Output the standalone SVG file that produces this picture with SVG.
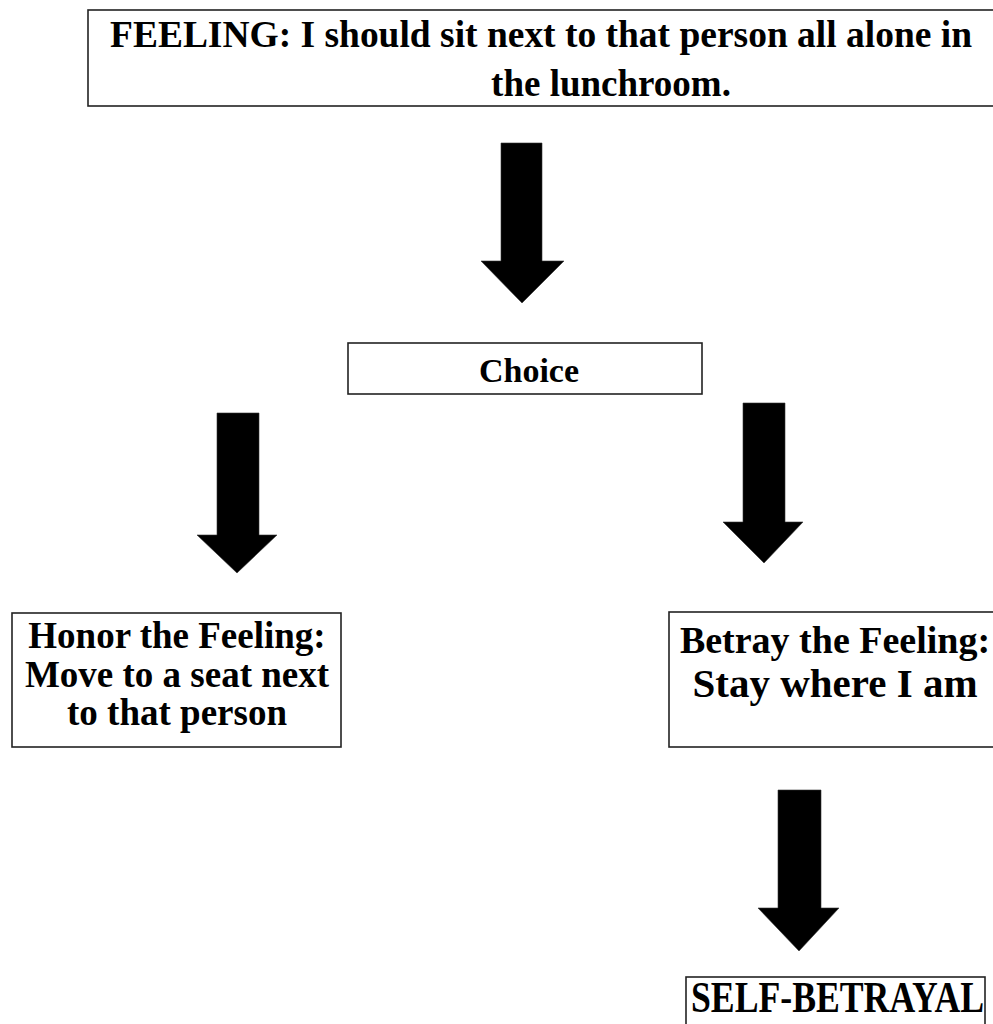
<svg xmlns="http://www.w3.org/2000/svg" width="993" height="1024" viewBox="0 0 993 1024">
  <style>
    .box { fill: #ffffff; stroke: #222222; stroke-width: 1.6; }
    .arrow { fill: #000000; stroke: #333333; stroke-width: 0.6; }
    .t { font-family: "Liberation Serif", "Times New Roman", serif; font-weight: bold; fill: #000000; }
  </style>
  <rect width="993" height="1024" fill="#ffffff"/>

  <g id="connectors">
    <polygon class="arrow" points="501,143 542,143 542,261 564,261 522,303 481,261 501,261"/>
    <polygon class="arrow" points="217,413 259,413 259,535 277,535 237,573 197,535 217,535"/>
    <polygon class="arrow" points="743,403 785,403 785,522 803,522 764,563 723,522 743,522"/>
    <polygon class="arrow" points="778,790 821,790 821,908 839,908 799,951 758,908 778,908"/>
  </g>

  <g id="node-feeling">
    <rect class="box" x="88" y="10" width="912" height="96"/>
    <text class="t" x="110" y="47" font-size="37" textLength="862" lengthAdjust="spacingAndGlyphs">FEELING:  I should sit next to that person all alone in</text>
    <text class="t" x="611" y="96" font-size="37" text-anchor="middle">the lunchroom.</text>
  </g>

  <g id="node-choice">
    <rect class="box" x="348" y="343" width="354" height="51"/>
    <text class="t" x="529" y="382" font-size="34" text-anchor="middle">Choice</text>
  </g>

  <g id="node-honor">
    <rect class="box" x="12" y="613" width="329" height="134"/>
    <text class="t" x="177" y="648" font-size="37" text-anchor="middle">Honor the Feeling:</text>
    <text class="t" x="177" y="687" font-size="37" text-anchor="middle">Move to a seat next</text>
    <text class="t" x="177" y="725" font-size="37" text-anchor="middle">to that person</text>
  </g>

  <g id="node-betray">
    <rect class="box" x="669" y="612" width="331" height="135"/>
    <text class="t" x="835" y="653" font-size="38" text-anchor="middle">Betray the Feeling:</text>
    <text class="t" x="835" y="697" font-size="41" text-anchor="middle">Stay where I am</text>
  </g>

  <g id="node-selfbetrayal">
    <rect class="box" x="686" y="977" width="299" height="60"/>
    <text class="t" x="691" y="1012" font-size="44" font-weight="normal" textLength="293" lengthAdjust="spacingAndGlyphs">SELF-BETRAYAL</text>
  </g>
</svg>
